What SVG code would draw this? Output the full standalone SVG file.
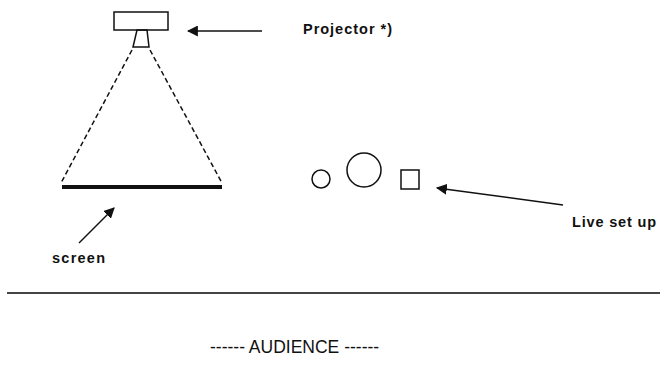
<svg xmlns="http://www.w3.org/2000/svg" width="660" height="372" viewBox="0 0 660 372">
<defs>
<style>
.t{font-family:"Liberation Sans",Arial,sans-serif;fill:#111;}
.b{font-weight:bold;font-size:14.5px;}
.s{fill:none;stroke:#111;stroke-width:1.5;}
.c{stroke:#111;stroke-width:1.5;fill:none;}
</style>
<marker id="ah" viewBox="0 0 10 10" refX="9" refY="5" markerWidth="11" markerHeight="11" markerUnits="userSpaceOnUse" orient="auto">
<path d="M0,0 L10,5 L0,10 z" fill="#111"/>
</marker>
</defs>
<rect width="660" height="372" fill="#fff"/>
<g id="projector">
<rect class="s" x="114" y="12" width="54" height="18"/>
<path class="s" d="M137,30 L147,30 L149,47 L133,47 Z"/>
</g>
<g id="beam">
<line x1="132" y1="50" x2="61" y2="183" stroke="#111" stroke-width="1.5" stroke-dasharray="5,3"/>
<line x1="150" y1="50" x2="222" y2="183" stroke="#111" stroke-width="1.5" stroke-dasharray="5,3"/>
</g>
<g id="screen">
<line x1="62" y1="187" x2="222" y2="187" stroke="#111" stroke-width="4"/>
</g>
<g id="liveset">
<circle class="s" cx="321" cy="179" r="9"/>
<circle class="s" cx="364" cy="170" r="17"/>
<rect class="s" x="401" y="170" width="18" height="19"/>
</g>
<g id="divider">
<line x1="7" y1="293" x2="660" y2="293" stroke="#444" stroke-width="2"/>
</g>
<g id="connectors">
<line class="c" x1="262" y1="31" x2="188" y2="31" marker-end="url(#ah)"/>
<line class="c" x1="563" y1="205" x2="437" y2="188" marker-end="url(#ah)"/>
<line class="c" x1="79" y1="243" x2="114" y2="208" marker-end="url(#ah)"/>
</g>
<g id="labels">
<text class="t b" x="303" y="34" textLength="89" lengthAdjust="spacing">Projector *)</text>
<text class="t b" x="572" y="227" textLength="84" lengthAdjust="spacing">Live set up</text>
<text class="t b" x="52" y="263" textLength="53" lengthAdjust="spacing">screen</text>
<text class="t" x="210" y="353" font-size="17.5">------ AUDIENCE ------</text>
</g>
</svg>
